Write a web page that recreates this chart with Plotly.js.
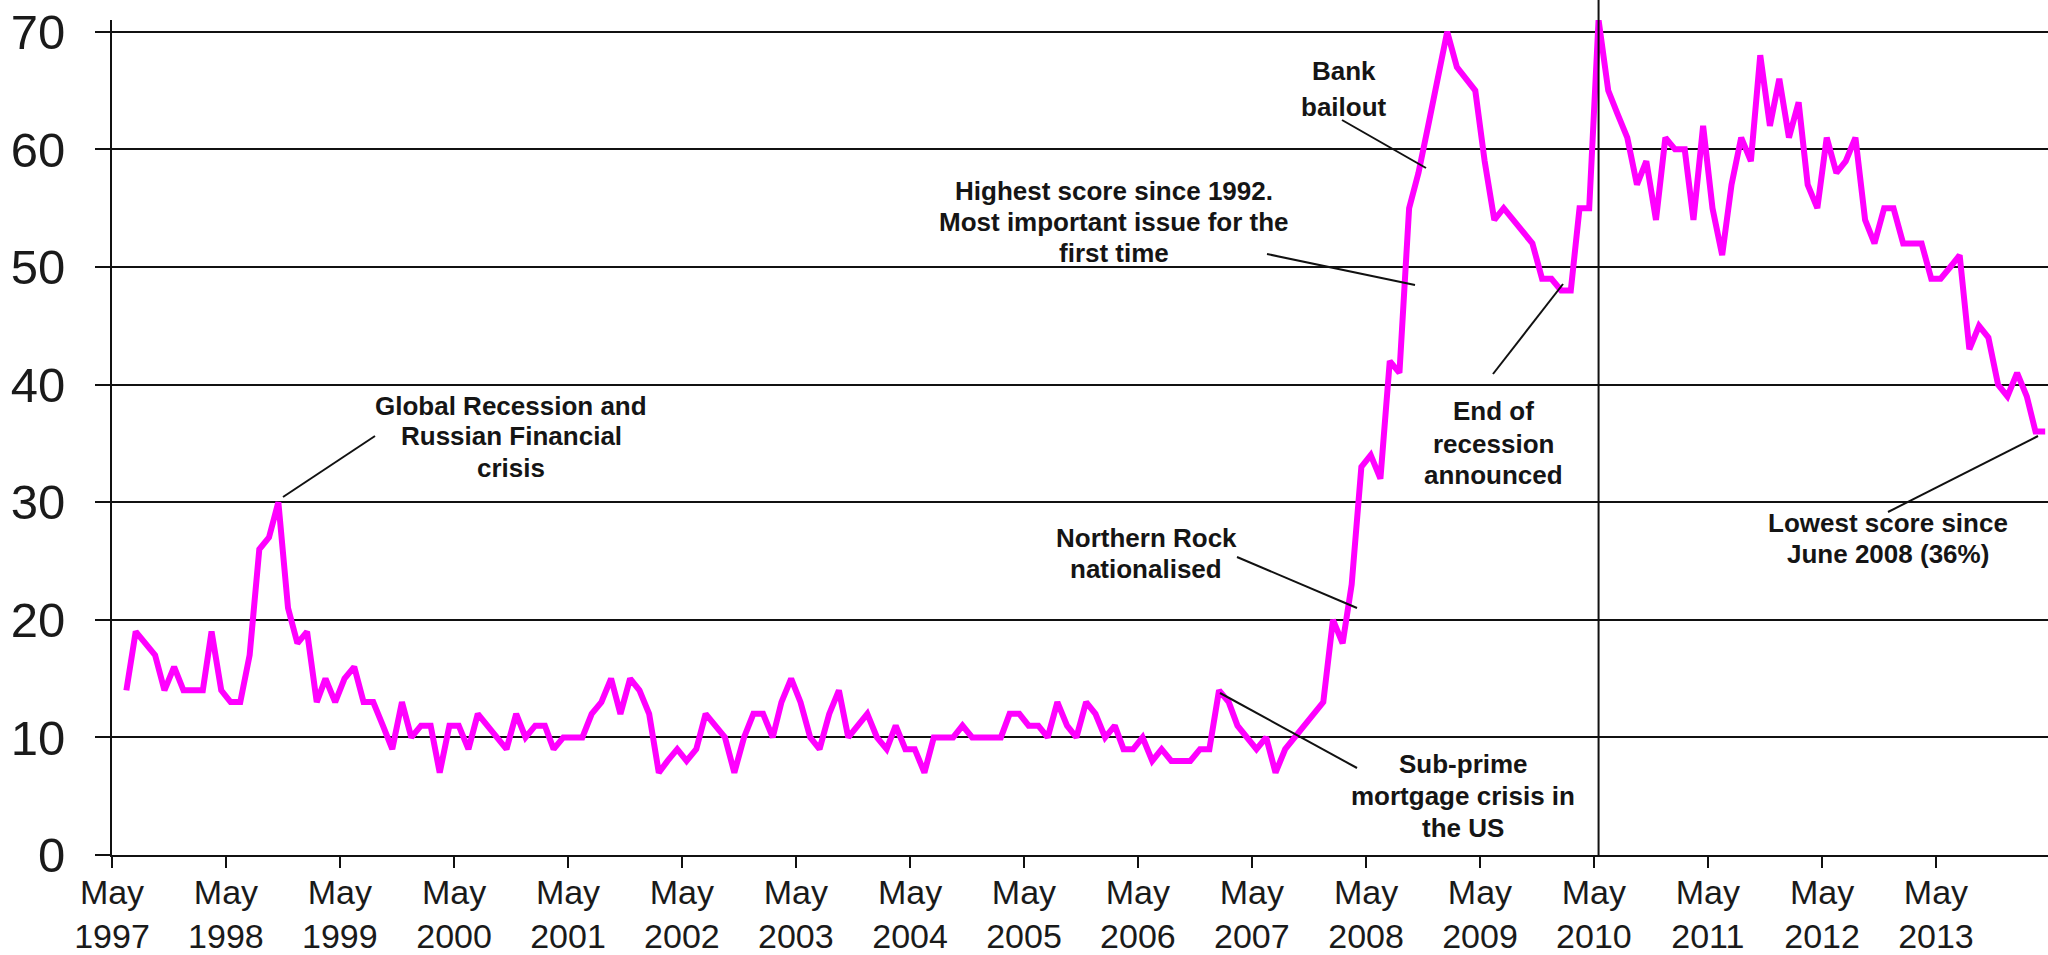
<!DOCTYPE html>
<html>
<head>
<meta charset="utf-8">
<script src="https://cdn.plot.ly/plotly-3.0.1.min.js"></script>
<style>
    html, body { margin: 0; padding: 0; background: #fff; }
    #chart { width: 2048px; height: 955px; }
</style>
</head>
<body>
<div id="chart"></div>
<script>
// monthly scores, one array per year (1997 starts in June, 2014 ends in April)
const y1997 = [14, 19, 18, 17, 14, 16, 14]
const y1998 = [14, 14, 19, 14, 13, 13, 17, 26, 27, 30, 21, 18]
const y1999 = [19, 13, 15, 13, 15, 16, 13, 13, 11, 9, 13, 10]
const y2000 = [11, 11, 7, 11, 11, 9, 12, 11, 10, 9, 12, 10]
const y2001 = [11, 11, 9, 10, 10, 10, 12, 13, 15, 12, 15, 14]
const y2002 = [12, 7, 8, 9, 8, 9, 12, 11, 10, 7, 10, 12]
const y2003 = [12, 10, 13, 15, 13, 10, 9, 12, 14, 10, 11, 12]
const y2004 = [10, 9, 11, 9, 9, 7, 10, 10, 10, 11, 10, 10]
const y2005 = [10, 10, 12, 12, 11, 11, 10, 13, 11, 10, 13, 12]
const y2006 = [10, 11, 9, 9, 10, 8, 9, 8, 8, 8, 9, 9]
const y2007 = [14, 13, 11, 10, 9, 10, 7, 9, 10, 11, 12, 13]
const y2008 = [20, 18, 23, 33, 34, 32, 42, 41, 55, 58, 62, 66]
const y2009 = [70, 67, 66, 65, 59, 54, 55, 54, 53, 52, 49, 49]
const y2010 = [48, 48, 55, 55, 71, 65, 63, 61, 57, 59, 54, 61]
const y2011 = [60, 60, 54, 62, 55, 51, 57, 61, 59, 68, 62, 66]
const y2012 = [61, 64, 57, 55, 61, 58, 59, 61, 54, 52, 55, 55]
const y2013 = [52, 52, 52, 49, 49, 50, 51, 43, 45, 44, 40, 39]
const y2014 = [41, 39, 36, 36]

const years = [
    [1997, 6, y1997], [1998, 1, y1998], [1999, 1, y1999], [2000, 1, y2000],
    [2001, 1, y2001], [2002, 1, y2002], [2003, 1, y2003], [2004, 1, y2004],
    [2005, 1, y2005], [2006, 1, y2006], [2007, 1, y2007], [2008, 1, y2008],
    [2009, 1, y2009], [2010, 1, y2010], [2011, 1, y2011], [2012, 1, y2012],
    [2013, 1, y2013], [2014, 1, y2014],
]

const tickYears = [1997, 1998, 1999, 2000, 2001, 2002, 2003, 2004, 2005,
    2006, 2007, 2008, 2009, 2010, 2011, 2012, 2013]

const notes = [
    { x: 511, y: [406, 436, 468], lines: ['Global Recession and', 'Russian Financial', 'crisis'], from: [283, 497], to: [375, 436] },
    { x: 1146, y: [538, 569], lines: ['Northern Rock', 'nationalised'], from: [1237, 557], to: [1357, 608] },
    { x: 1463, y: [764, 796, 828], lines: ['Sub-prime', 'mortgage crisis in', 'the US'], from: [1220, 693], to: [1357, 768] },
    { x: 1114, y: [191, 222, 253], lines: ['Highest score since 1992.', 'Most important issue for the', 'first time'], from: [1267, 254], to: [1415, 285] },
    { x: 1344, y: [71, 107], lines: ['Bank', 'bailout'], from: [1342, 120], to: [1426, 168] },
    { x: 1493, y: [411, 444, 475], lines: ['End of', 'recession', 'announced'], from: [1493, 374], to: [1563, 284] },
    { x: 1888, y: [523, 554], lines: ['Lowest score since', 'June 2008 (36%)'], from: [1888, 512], to: [2038, 436] },
]

const pad = n => String(n).padStart(2, '0')

let xs = [], ys = []
years.forEach(([yr, m0, vals]) => {
    vals.forEach((v, i) => {
        xs.push(`${yr}-${pad(m0 + i)}-16`)
        ys.push(v)
    })
})

// plot area in page pixels: x 112..2048, y 20..855
const PX = x => (x - 112) / 1936
const PY = y => (855 - y) / 835

let annotations = []
let shapes = []
notes.forEach(n => {
    n.lines.forEach((t, i) => {
        annotations.push({
            xref: 'paper', yref: 'paper',
            x: PX(n.x), y: PY(n.y[i]),
            xanchor: 'center', yanchor: 'middle',
            text: '<b>' + t + '</b>',
            showarrow: false,
            font: { family: 'Liberation Sans, Arial, sans-serif', size: 26, color: '#151515' },
        })
    })
    shapes.push({
        type: 'line', xref: 'paper', yref: 'paper',
        x0: PX(n.from[0]), y0: PY(n.from[1]),
        x1: PX(n.to[0]), y1: PY(n.to[1]),
        line: { color: '#111', width: 2 },
    })
})

// election marker line
shapes.push({
    type: 'line', xref: 'x', yref: 'paper',
    x0: '2010-05-16', x1: '2010-05-16', y0: 0, y1: PY(0),
    line: { color: '#111', width: 2 },
})

const trace = {
    type: 'scatter',
    mode: 'lines',
    x: xs,
    y: ys,
    line: { color: '#ff00ff', width: 6 },
    hoverinfo: 'x+y',
}

const layout = {
    width: 2048,
    height: 955,
    margin: { l: 112, r: 0, t: 20, b: 100 },
    paper_bgcolor: '#fff',
    plot_bgcolor: '#fff',
    showlegend: false,
    font: { family: 'Liberation Sans, Arial, sans-serif', color: '#1a1a1a' },
    xaxis: {
        type: 'date',
        range: ['1997-05-01', '2014-04-25'],
        tickmode: 'array',
        tickvals: tickYears.map(y => `${y}-05-01`),
        ticktext: tickYears.map(y => `May<br>${y}`),
        ticks: 'outside',
        ticklen: 11,
        tickwidth: 2,
        tickcolor: '#111',
        ticklabelstandoff: -5,
        showgrid: false,
        zeroline: false,
        showline: true,
        linecolor: '#111',
        linewidth: 2,
        tickfont: { size: 34, color: '#1a1a1a' },
    },
    yaxis: {
        range: [0, 71],
        tickmode: 'array',
        tickvals: [0, 10, 20, 30, 40, 50, 60, 70],
        ticks: 'outside',
        ticklen: 15,
        tickwidth: 2,
        tickcolor: '#111',
        ticklabelstandoff: 20,
        showgrid: true,
        gridcolor: '#111',
        gridwidth: 1.5,
        zeroline: false,
        showline: true,
        linecolor: '#111',
        linewidth: 2,
        tickfont: { size: 49, color: '#1a1a1a' },
    },
    annotations: annotations,
    shapes: shapes,
}

Plotly.newPlot('chart', [trace], layout, { displayModeBar: false, responsive: false })
</script>
</body>
</html>
